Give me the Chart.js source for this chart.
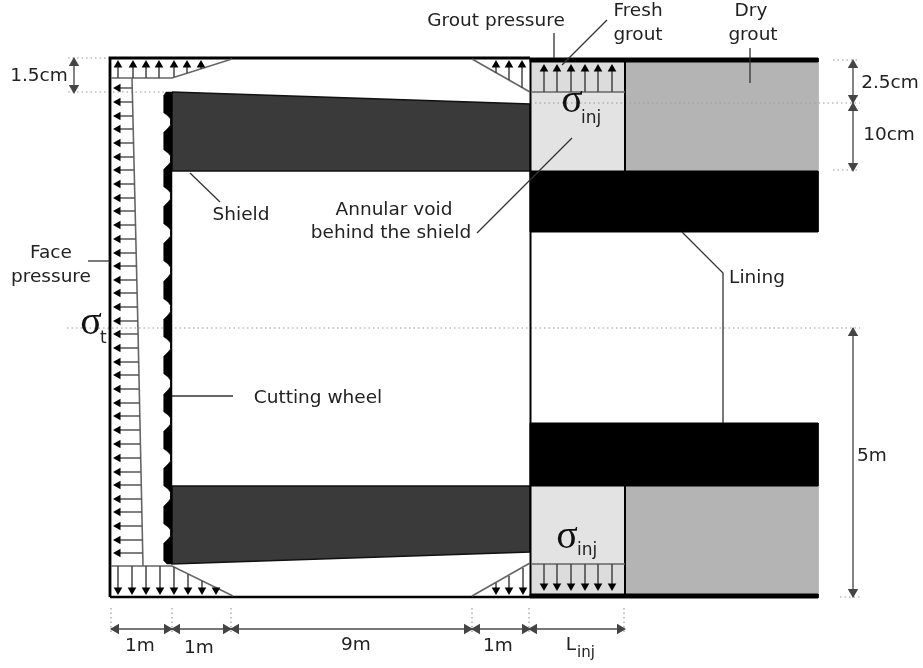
<!DOCTYPE html>
<html><head><meta charset="utf-8">
<style>html,body{margin:0;padding:0;background:#fff}canvas{display:block}</style>
<script src="https://cdn.jsdelivr.net/npm/chart.js@4/dist/chart.umd.min.js"></script>
</head><body><canvas id="c" width="923" height="668"></canvas>
<script>
// Diagram geometry, in diagram units
const shieldTop=[[172,92],[530,104],[530,171],[172,171]];
const shieldBottom=[[172,486],[530,486],[530,552],[172,564]];
const freshTop=[[531,62],[625,62],[625,92],[531,92]];
const voidTop=[[531,92],[625,92],[625,171],[531,171]];
const voidBottom=[[531,486],[625,486],[625,564],[531,564]];
const freshBottom=[[531,564],[625,564],[625,594],[531,594]];
const dryTop=[[626,62],[818,62],[818,171],[626,171]];
const dryBottom=[[626,486],[818,486],[818,594],[626,594]];
const liningTop=[[530,171],[818,171],[818,232],[530,232]];
const liningBottom=[[530,423],[818,423],[818,486],[530,486]];
const barTop=[[530,58],[818,58],[818,62],[530,62]];
const barBottom=[[530,594],[818,594],[818,598],[530,598]];
const frameLines=[[[110,597],[110,58],[530,58]],[[110,597],[530,597]]];
const boxLines=[[[530.5,58],[530.5,597]],[[625,58],[625,171]],[[625,486],[625,597]]];
const wheelLobes=[94,131,168,205,242,280,318,355,393,430,467,505,542];

const pressureOutlines=[
 [[111,78],[172,78],[232,59]],
 [[132,78],[138,330],[143,566]],
 [[111,566],[172,566],[233,596]],
 [[472,59],[530,92]],
 [[472,596],[530,563]],
 [[532,92],[625,92]],
 [[532,564],[625,564]]
];
const stemsUpX=[118,133,146,159,174,187,201,496,509,522,544,557,571,585,598,612];
const stemsUpTail=[78,78,78,78,77,73,69,73,80,88,92,92,92,92,92,92];
const stemsUpTip=[61,61,61,61,61,61,61,61,61,61,65,65,65,65,65,65];
const stemsDownX=[118,132,146,160,174,188,202,216,496,509,523,544,557,571,585,598,612];
const stemsDownTail=[566,566,566,566,567,574,581,588,583,576,568,564,564,564,564,564,564];
const stemsDownTip=[594,594,594,594,594,594,594,594,594,594,594,590,590,590,590,590,590];
const faceArrowY=[88,102,116,129,143,157,170,184,198,211,225,239,253,266,280,293,307,321,334,348,362,375,389,403,416,430,444,458,472,485,499,512,526,540,553];
const faceArrowEnd=[132,133,133,133,134,134,134,135,135,135,136,136,136,137,137,137,138,138,138,138,139,139,139,140,140,140,140,141,141,141,142,142,142,143,143];
const faceArrowTip=114;

const leaders=[
 [[554,33],[554,58]],
 [[607,20],[562,65]],
 [[750,48],[750,83]],
 [[572,138],[477,233]],
 [[190,173],[220,202]],
 [[88,261],[110,261]],
 [[172,396],[233,396]],
 [[682,232],[723,273],[723,423]]
];
const dottedLines=[
 [[68,58],[110,58]],[[68,92],[165,92]],[[67,328],[860,328]],
 [[535,103],[860,103]],[[833,60],[860,60]],[[833,170],[860,170]],[[840,597],[860,597]],
 [[111,608],[111,633]],[[172,608],[172,633]],[[231,608],[231,633]],
 [[472,608],[472,633]],[[529,608],[529,633]],[[624,608],[624,633]]
];
const dimLines=[
 [[74,58],[74,92]],[[853,62],[853,170]],[[853,328],[853,597]],
 [[111,629],[624,629]]
];
const dimUp=[[74,63],[853,65],[853,108],[853,333]];
const dimDown=[[74,88],[853,98],[853,166],[853,592]];
const dimLeft=[[116,629],[177,629],[236,629],[477,629],[534,629]];
const dimRight=[[167,629],[226,629],[467,629],[525,629],[620,629]];

const labelTexts=["Grout pressure","Fresh","grout","Dry","grout","1.5cm","2.5cm","10cm","5m","Shield","Annular void","behind the shield","Face","pressure","Cutting wheel","Lining","1m","1m","9m","1m","L"];
const labelX=[496,638,638,751,753,39,890,889,872,241,394,391,51,51,318,757,140,199,356,498,571];
const labelY=[21,11,35,11,35,76,83,135,456,215,210,233,253,277,398,278,646,648,645,646,645];
const sigmaX=[572,567,91];
const sigmaY=[101,537,323];
const subTexts=["inj","inj","t"];
const subX=[581,577,100];
const subY=[119,551,339];
const subLX=[577];
const subLY=[653];

function pts(a){return a.map(p=>({x:p[0],y:p[1]}));}
function base(o){return Object.assign({showLine:true,tension:0,pointRadius:0,pointHoverRadius:0,fill:false,borderWidth:1,borderColor:'#000',clip:false},o);}
function poly(a,fillC,border,bw){return base({data:pts(a.concat([a[0]])),fill:'shape',backgroundColor:fillC,borderColor:border||fillC,borderWidth:bw===undefined?1:bw});}
function line(a,color,w,dash){return base({data:pts(a),borderColor:color,borderWidth:w,borderDash:dash||[]});}
function heads(a,rot,r,color){return base({showLine:false,data:pts(a),pointStyle:'triangle',pointRadius:r,pointRotation:rot,pointBackgroundColor:color,pointBorderColor:color,pointBorderWidth:0});}
function wheel(){
 const o=[[172,92],[166,92]];
 wheelLobes.forEach((s,i)=>{
  o.push([164,s+1],[164,s+19]);
  if(i<wheelLobes.length-1){const n=wheelLobes[i+1];const m=(s+19+n)/2;o.push([168,s+22],[170.5,m-3],[170.5,m+3],[168,n-3]);}
 });
 o.push([167,564],[172,564]);
 return o;
}
const ds=[];
[[freshTop,'#dcdcdc'],[voidTop,'#e3e3e3'],[voidBottom,'#e3e3e3'],[freshBottom,'#dcdcdc'],[dryTop,'#b4b4b4'],[dryBottom,'#b4b4b4']].forEach(p=>ds.push(poly(p[0],p[1])));
dottedLines.forEach(l=>ds.push(line(l,'#999',1.2,[1.5,3])));
[shieldTop,shieldBottom].forEach(p=>ds.push(poly(p,'#3a3a3a','#111',1.5)));
ds.push(poly(wheel(),'#000','#000',0.5));
[liningTop,liningBottom,barTop,barBottom].forEach(p=>ds.push(poly(p,'#000')));
frameLines.forEach((l,i)=>ds.push(line(l,'#000',i===0?2.8:2.6)));
boxLines.forEach(l=>ds.push(line(l,'#000',2)));
pressureOutlines.forEach(l=>ds.push(line(l,'#666',1.6)));
stemsUpX.forEach((x,i)=>ds.push(line([[x,stemsUpTail[i]],[x,stemsUpTip[i]+3]],'#444',1.5)));
stemsDownX.forEach((x,i)=>ds.push(line([[x,stemsDownTail[i]],[x,stemsDownTip[i]-3]],'#444',1.5)));
faceArrowY.forEach((y,i)=>ds.push(line([[faceArrowTip+3,y],[faceArrowEnd[i],y]],'#555',1.5)));
ds.push(heads(stemsUpX.map((x,i)=>[x,stemsUpTip[i]+4]),0,5,'#000'));
ds.push(heads(stemsDownX.map((x,i)=>[x,stemsDownTip[i]-4]),180,5,'#000'));
ds.push(heads(faceArrowY.map(y=>[faceArrowTip+4,y]),270,5,'#000'));
leaders.forEach(l=>ds.push(line(l,'#333',1.3)));
dimLines.forEach(l=>ds.push(line(l,'#777',1.8)));
ds.push(heads(dimUp,0,6,'#444'));
ds.push(heads(dimDown,180,6,'#444'));
ds.push(heads(dimLeft,270,6,'#444'));
ds.push(heads(dimRight,90,6,'#444'));

const textPlugin={id:'texts',afterDatasetsDraw(ch){
 const c=ch.ctx,X=ch.scales.x,Y=ch.scales.y;
 c.save();c.textBaseline='middle';c.textAlign='center';c.fillStyle='#222';
 c.font='18.5px "DejaVu Sans"';
 labelTexts.forEach((t,i)=>c.fillText(t,X.getPixelForValue(labelX[i]),Y.getPixelForValue(labelY[i])));
 c.textAlign='left';c.font='15px "DejaVu Sans"';
 c.fillText('inj',X.getPixelForValue(subLX[0]),Y.getPixelForValue(subLY[0]));
 c.font='17px "DejaVu Sans"';
 subTexts.forEach((t,i)=>c.fillText(t,X.getPixelForValue(subX[i]),Y.getPixelForValue(subY[i])));
 c.textAlign='center';c.fillStyle='#111';c.font='40px "Liberation Serif"';
 sigmaX.forEach((x,i)=>c.fillText('σ',X.getPixelForValue(x),Y.getPixelForValue(sigmaY[i])));
 c.restore();
}};
new Chart(document.getElementById('c'),{
 type:'scatter',
 data:{datasets:ds.reverse()},
 options:{responsive:false,animation:false,events:[],layout:{padding:0,autoPadding:false},
  plugins:{legend:{display:false},tooltip:{enabled:false},title:{display:false}},
  scales:{x:{type:'linear',min:0,max:923,display:false},y:{type:'linear',min:0,max:668,reverse:true,display:false}}},
 plugins:[textPlugin]
});
</script></body></html>
